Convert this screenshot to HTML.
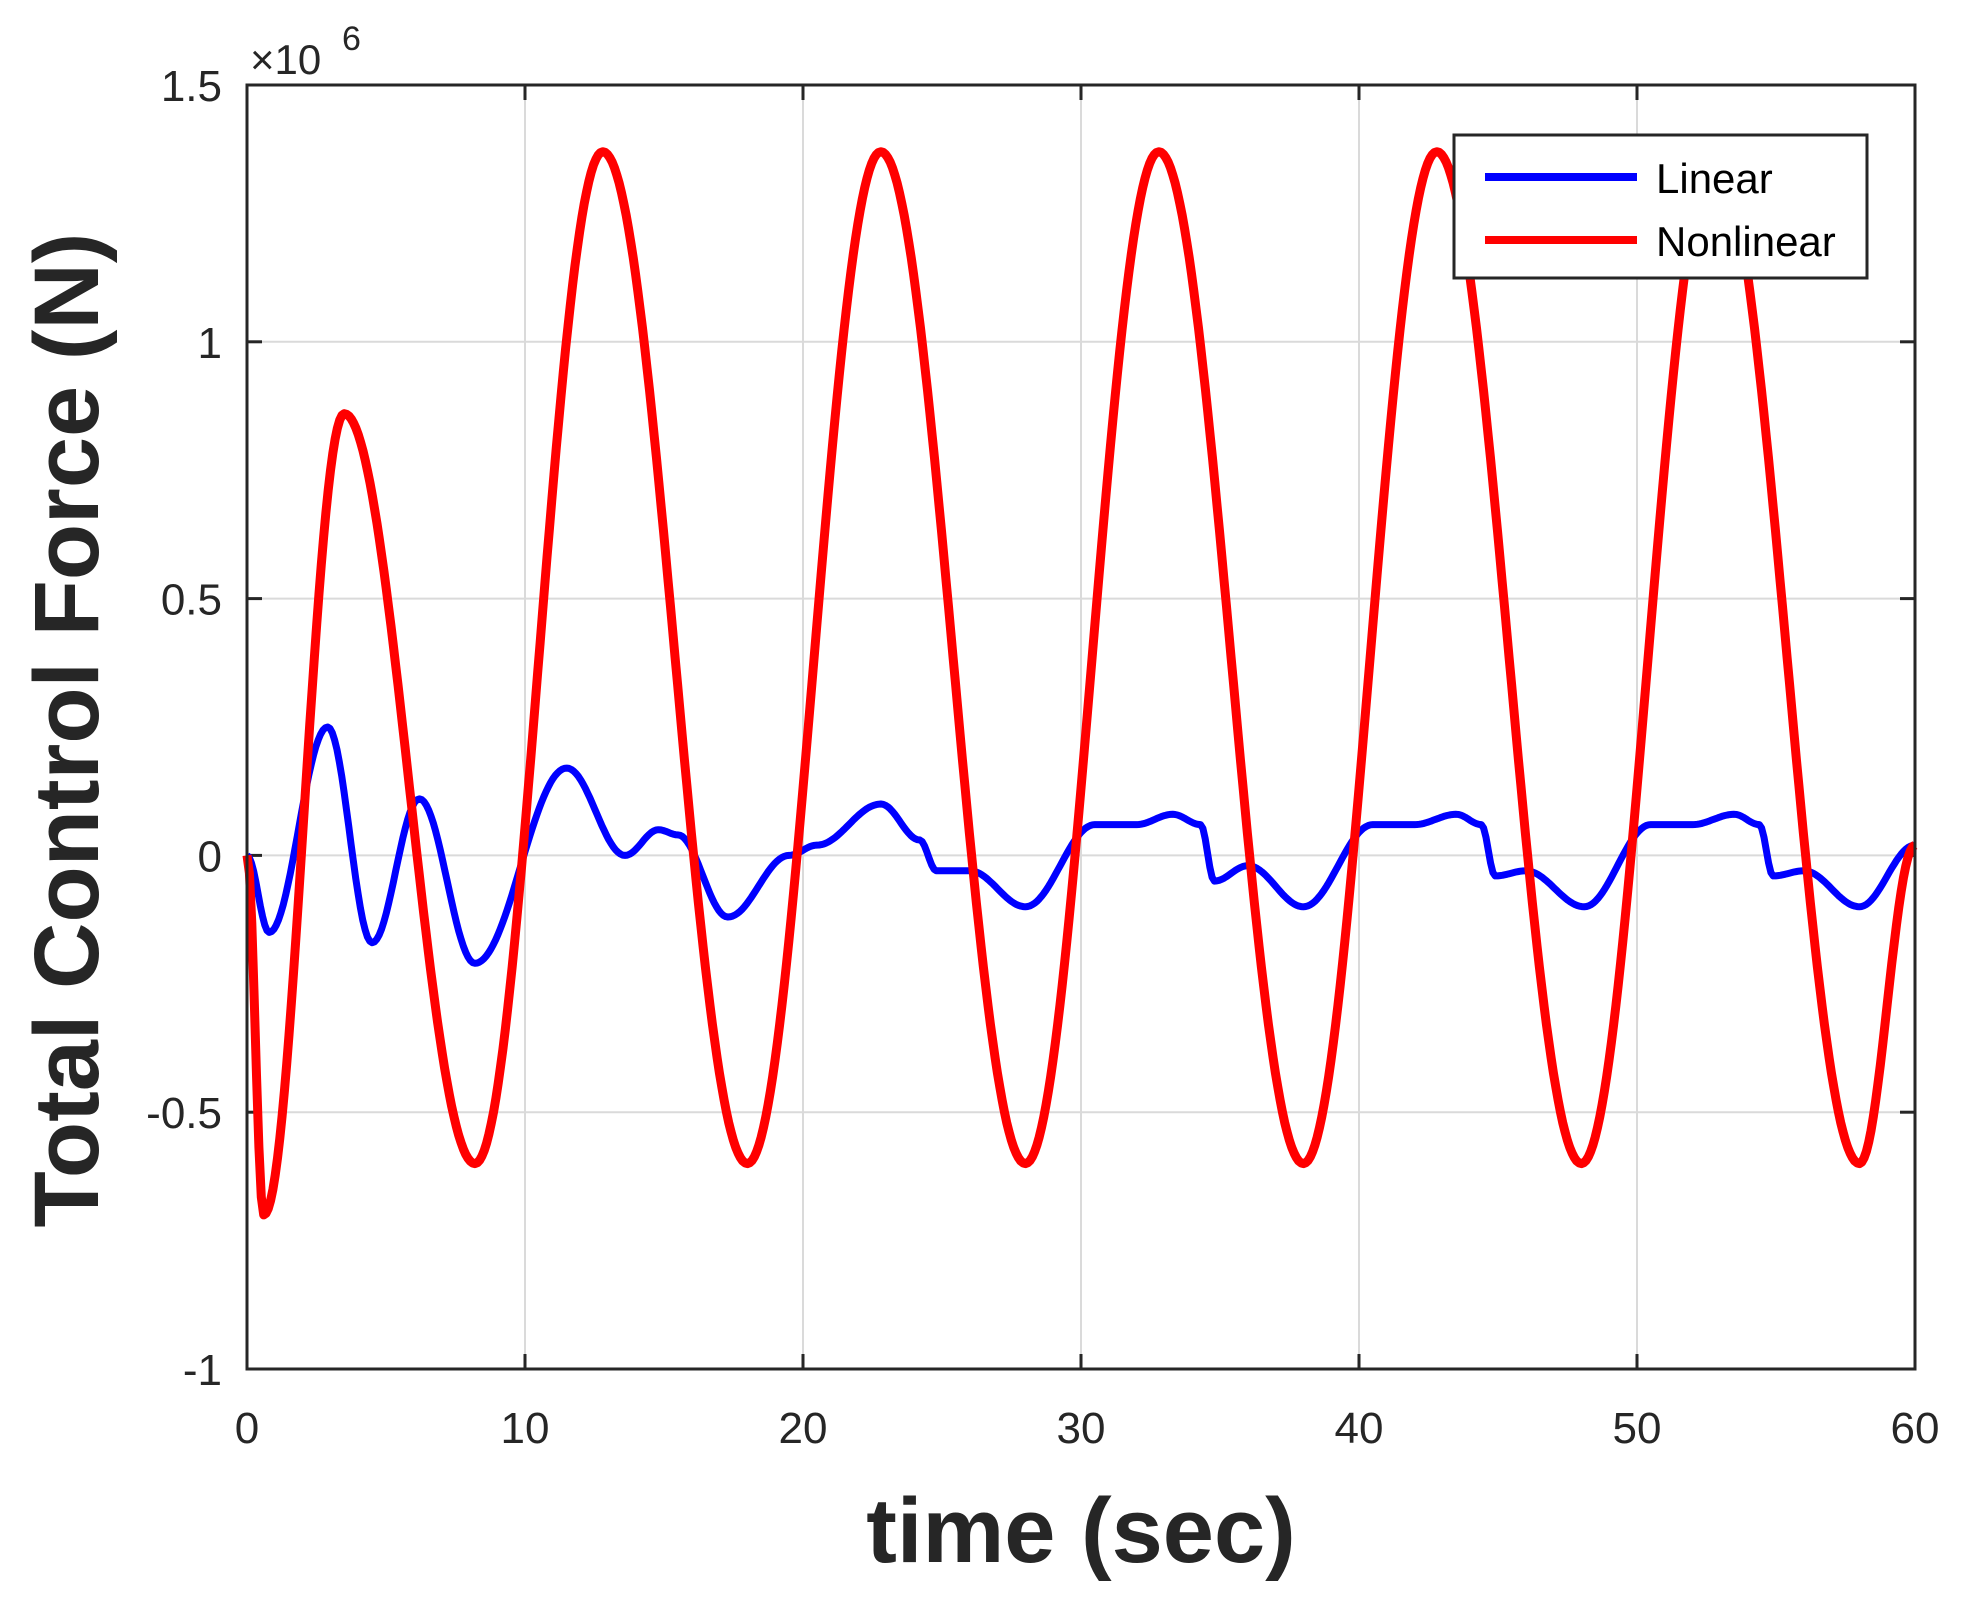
<!DOCTYPE html>
<html><head><meta charset="utf-8"><style>
html,body{margin:0;padding:0;background:#fff;width:1982px;height:1600px;overflow:hidden}
svg text{font-family:"Liberation Sans",Arial,sans-serif}
</style></head><body>
<svg id="s" width="1982" height="1600" xmlns="http://www.w3.org/2000/svg">
<rect width="1982" height="1600" fill="#fff"/>
<g id="grid" stroke="#dadada" stroke-width="2"></g>
<g id="ticks" stroke="#262626" stroke-width="3"></g>
<path id="blue" fill="none" stroke="#0000ff" stroke-width="7" stroke-linejoin="round"/>
<path id="red" fill="none" stroke="#ff0000" stroke-width="9" stroke-linejoin="round"/>
<rect x="247" y="85" width="1668" height="1284" fill="none" stroke="#262626" stroke-width="3"/>
<g id="lab" font-size="44" fill="#262626"></g>
<text x="250" y="74" font-size="42" fill="#262626">×10</text>
<text x="342" y="50" font-size="34" fill="#262626">6</text>
<rect x="1454" y="135" width="413" height="143" fill="#fff" stroke="#262626" stroke-width="3"/>
<line x1="1485" y1="177" x2="1637" y2="177" stroke="#0000ff" stroke-width="8"/>
<line x1="1485" y1="240" x2="1637" y2="240" stroke="#ff0000" stroke-width="8"/>
<text x="1656" y="193" font-size="42" fill="#000">Linear</text>
<text x="1656" y="256" font-size="42" fill="#000">Nonlinear</text>
<text x="1081" y="1562" font-size="92" font-weight="bold" text-anchor="middle" fill="#262626">time (sec)</text>
<text transform="translate(98,730) rotate(-90)" font-size="92" font-weight="bold" text-anchor="middle" fill="#262626">Total Control Force (N)</text>
</svg>
<script>
const X=t=>247+t*27.8, Y=v=>855.4-v*513.6;
const ns="http://www.w3.org/2000/svg";
function el(p,tag,a,txt){const e=document.createElementNS(ns,tag);for(const k in a)e.setAttribute(k,a[k]);if(txt!=null)e.textContent=txt;document.getElementById(p).appendChild(e);}
for(let t=10;t<60;t+=10)el('grid','line',{x1:X(t),y1:85,x2:X(t),y2:1369});
for(let v=-0.5;v<1.5;v+=0.5)el('grid','line',{x1:247,y1:Y(v),x2:1915,y2:Y(v)});
for(let t=0;t<=60;t+=10){el('ticks','line',{x1:X(t),y1:1369,x2:X(t),y2:1354});el('ticks','line',{x1:X(t),y1:85,x2:X(t),y2:100});
 el('lab','text',{x:X(t),y:1443,'text-anchor':'middle'},String(t));}
[[-1,'-1'],[-0.5,'-0.5'],[0,'0'],[0.5,'0.5'],[1,'1'],[1.5,'1.5']].forEach(([v,s])=>{
 el('ticks','line',{x1:247,y1:Y(v),x2:262,y2:Y(v)});el('ticks','line',{x1:1915,y1:Y(v),x2:1900,y2:Y(v)});
 el('lab','text',{x:222,y:Y(v)+16,'text-anchor':'end'},s);});
function build(pts){let d='';for(let i=0;i<pts.length-1;i++){const[a,va]=pts[i],[b,vb]=pts[i+1];const n=Math.max(4,Math.round((b-a)*12));
 for(let k=(i?1:0);k<=n;k++){const f=k/n,t=a+(b-a)*f,c=(1-Math.cos(Math.PI*f))/2,v=va+(vb-va)*c;d+=(d?'L':'M')+X(t).toFixed(1)+' '+Y(v).toFixed(1);}}return d;}
const red=[[0,0],[0.6,-0.7],[3.5,0.86],[8.2,-0.6],[12.8,1.37],[18,-0.6],[22.8,1.37],[28,-0.6],[32.8,1.37],[38,-0.6],[42.8,1.37],[48,-0.6],[52.8,1.37],[58,-0.6],[60,0.02]];
const blue=[[0,0],[0.8,-0.15],[2.9,0.25],[4.5,-0.17],[6.2,0.11],[8.2,-0.21],[11.5,0.17],[13.6,0.0],[14.8,0.05],[15.5,0.04],[17.3,-0.12],[19.5,0.0],[20.5,0.02],[22.8,0.1],[24.2,0.03],[24.8,-0.03],[26,-0.03],[28,-0.1],[30.5,0.06],[32,0.06],[33.3,0.08],[34.3,0.06],[34.8,-0.05],[36,-0.02],[38,-0.1],[40.5,0.06],[42,0.06],[43.5,0.08],[44.4,0.06],[44.9,-0.04],[46,-0.03],[48.1,-0.1],[50.5,0.06],[52,0.06],[53.5,0.08],[54.4,0.06],[54.9,-0.04],[56,-0.03],[58,-0.1],[60,0.02]];
document.getElementById('red').setAttribute('d',build(red));
document.getElementById('blue').setAttribute('d',build(blue));
</script>
</body></html>
